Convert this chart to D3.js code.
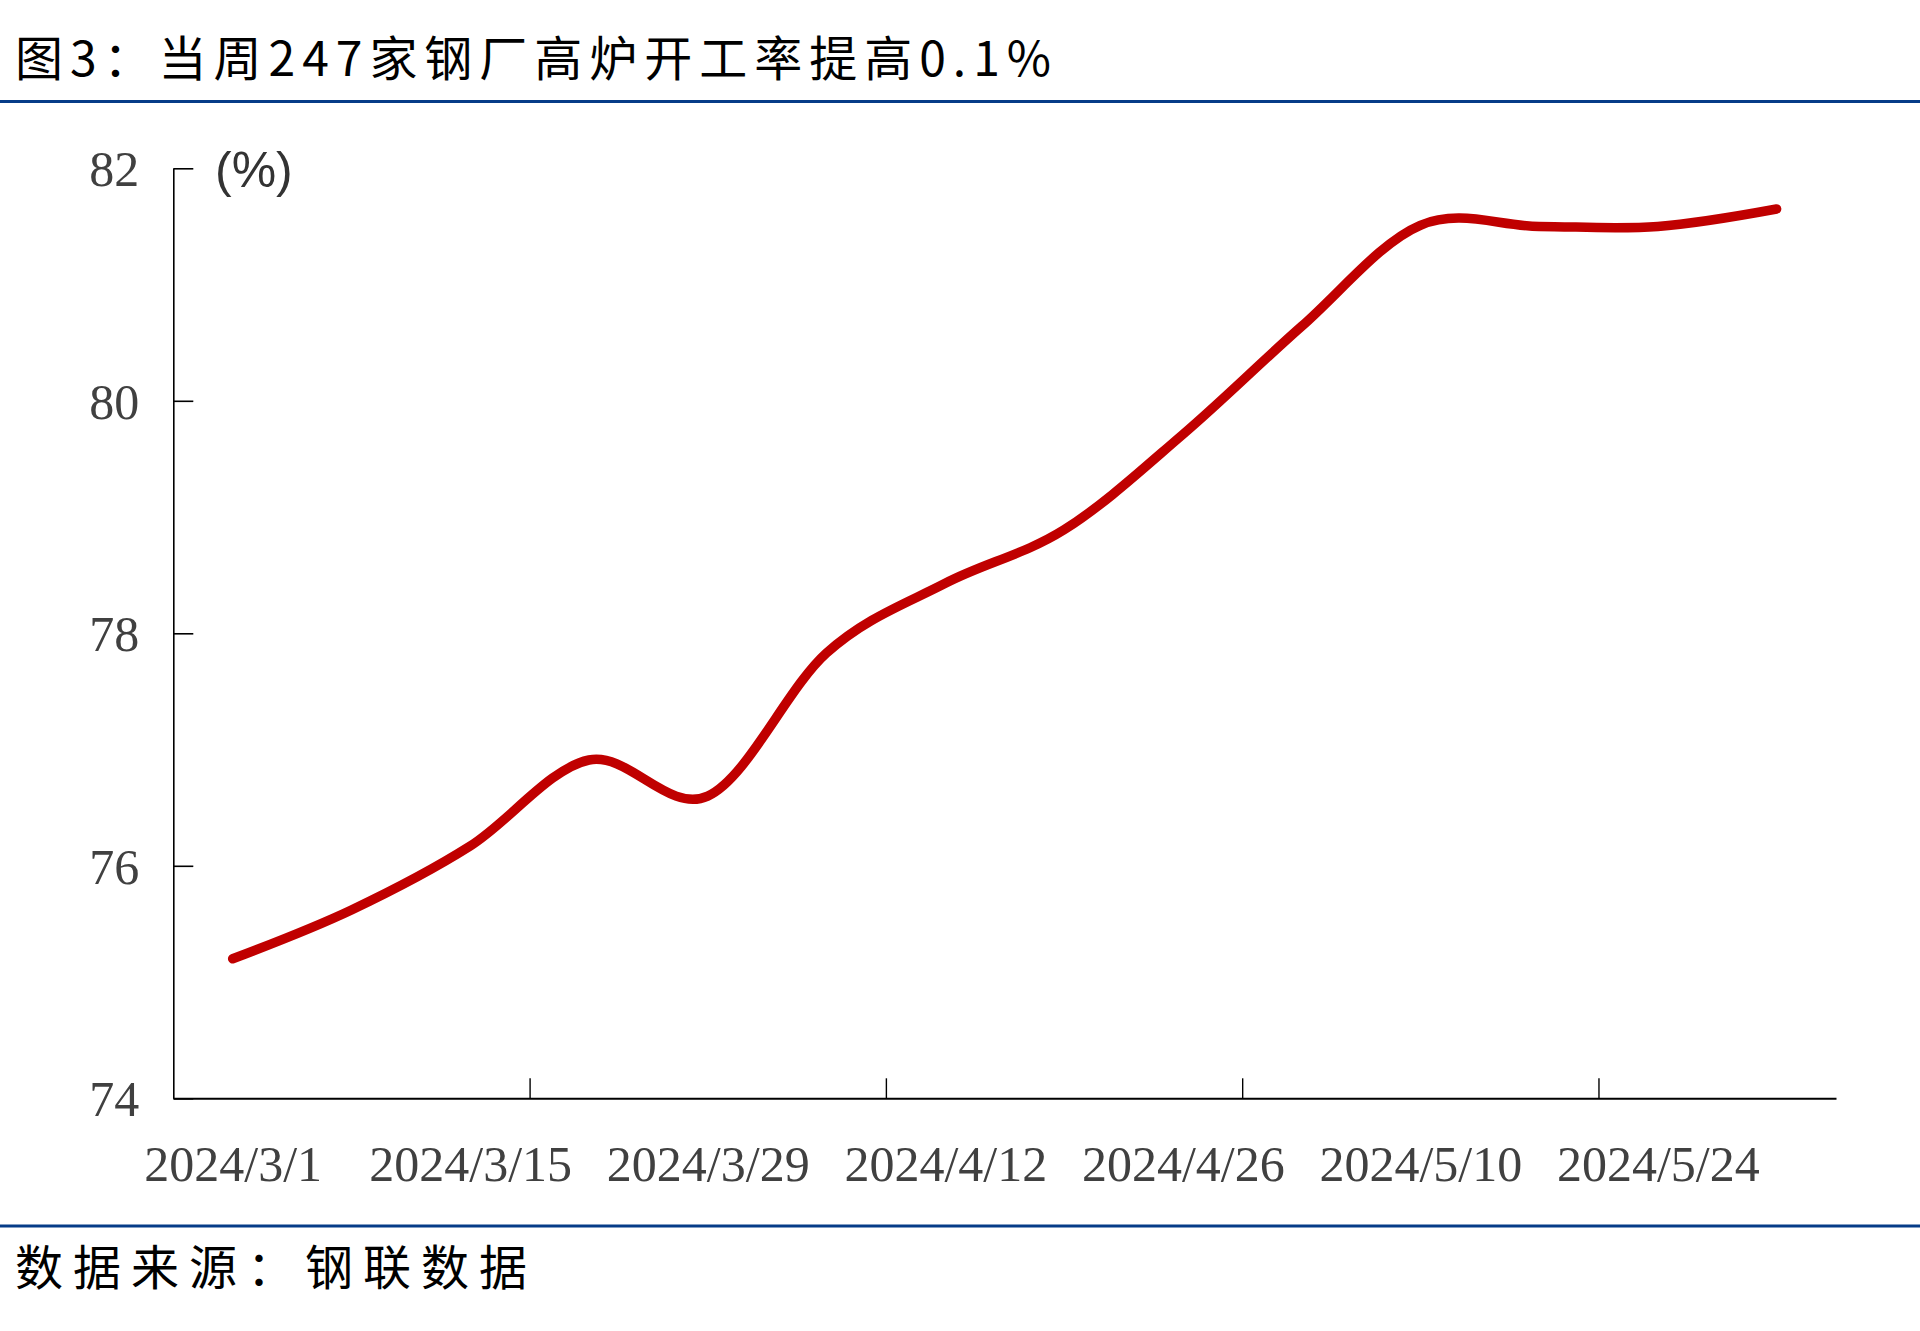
<!DOCTYPE html>
<html>
<head>
<meta charset="utf-8">
<script src="https://cdn.jsdelivr.net/npm/d3@7"></script>
<style>
  html, body { margin: 0; padding: 0; background: #fff; }
  svg { display: block; }
</style>
</head>
<body>
<svg id="chart" width="1920" height="1331"></svg>
<script>
// ---- data ----
const titleText = "图3：当周247家钢厂高炉开工率提高0.1%";
const sourceText = "数据来源：钢联数据";
const unitLabel = "(%)";
const dates = ["2024/3/1","2024/3/8","2024/3/15","2024/3/22","2024/3/29","2024/4/5","2024/4/12",
               "2024/4/19","2024/4/26","2024/5/3","2024/5/10","2024/5/17","2024/5/24","2024/5/31"];
const values = [75.20, 75.62, 76.17, 76.91, 76.60, 77.83, 78.43, 78.89, 79.71, 80.64, 81.51, 81.50, 81.50, 81.65];
const yTicks = [74, 76, 78, 80, 82];
const xLabelEvery = 2;   // a label every second week
const xTickEvery = 3;    // a tick mark every third category boundary

(function () {
// ---- layout ----
const svg = d3.select("#chart");
const pLeft = 173.3, pRight = 1836, pTop = 168.3, pBottom = 1098.3;
const blue = "#063c88";

// title
svg.append("text")
  .attr("x", 15).attr("y", 76)
  .attr("font-family", "'Noto Sans CJK SC', sans-serif")
  .attr("font-size", 48)
  .attr("fill", "#000")
  .attr("textLength", 1036).attr("lengthAdjust", "spacing")
  .text(titleText);

svg.append("line").attr("x1", 0).attr("x2", 1920).attr("y1", 101.5).attr("y2", 101.5)
  .attr("stroke", blue).attr("stroke-width", 3);

svg.append("line").attr("x1", 0).attr("x2", 1920).attr("y1", 1226).attr("y2", 1226)
  .attr("stroke", blue).attr("stroke-width", 3);

svg.append("text")
  .attr("x", 15).attr("y", 1285)
  .attr("font-family", "'Noto Sans CJK SC', sans-serif")
  .attr("font-size", 48)
  .attr("fill", "#000")
  .attr("textLength", 512).attr("lengthAdjust", "spacing")
  .text(sourceText);

// scales
const x = d3.scaleLinear().domain([0, dates.length]).range([pLeft, pRight]);
const y = d3.scaleLinear().domain([74, 82]).range([pBottom, pTop]);

// y axis
const yAxis = svg.append("g").attr("transform", `translate(${pLeft},0)`)
  .call(d3.axisLeft(y).tickValues(yTicks).tickSizeInner(-20).tickSizeOuter(0).tickPadding(34).tickFormat(d3.format("d")));
yAxis.select(".domain").attr("stroke", "#000").attr("stroke-width", 1.6);
yAxis.selectAll(".tick line").attr("stroke", "#000").attr("stroke-width", 1.6);
yAxis.selectAll(".tick text")
  .attr("font-family", "'Liberation Serif', 'Times New Roman', serif")
  .attr("font-size", 50).attr("fill", "#404040").attr("dy", "0.35em");

// x axis: boundary ticks
const tickIdx = d3.range(xTickEvery, dates.length, xTickEvery);
const xTicksAxis = svg.append("g").attr("transform", `translate(0,${pBottom})`)
  .call(d3.axisBottom(x).tickValues(tickIdx).tickSizeInner(-20).tickSizeOuter(0).tickFormat(""));
xTicksAxis.select(".domain").attr("stroke", "#000").attr("stroke-width", 2);
xTicksAxis.selectAll(".tick line").attr("stroke", "#000").attr("stroke-width", 1.4);

// x axis labels at category centres
const labelIdx = d3.range(0, dates.length, xLabelEvery);
const xLabelAxis = svg.append("g").attr("transform", `translate(0,${pBottom})`)
  .call(d3.axisBottom(x).tickValues(labelIdx.map(i => i + 0.5)).tickSize(0)
        .tickFormat(v => dates[Math.round(v - 0.5)]));
xLabelAxis.select(".domain").remove();
xLabelAxis.selectAll(".tick text")
  .attr("y", 83).attr("dy", 0)
  .attr("font-family", "'Liberation Serif', 'Times New Roman', serif")
  .attr("font-size", 50).attr("fill", "#404040");

// unit label
svg.append("text")
  .attr("x", 215).attr("y", 187)
  .attr("font-family", "'Liberation Sans', Arial, sans-serif")
  .attr("font-size", 50).attr("fill", "#333")
  .text(unitLabel);

// line
const line = d3.line()
  .x((d, i) => x(i + 0.5))
  .y(d => y(d))
  .curve(d3.curveCardinal.tension(0));
svg.append("path")
  .datum(values)
  .attr("d", line)
  .attr("fill", "none")
  .attr("stroke", "#c00000")
  .attr("stroke-width", 9.5)
  .attr("stroke-linecap", "round")
  .attr("stroke-linejoin", "round");
})();
</script>
</body>
</html>
